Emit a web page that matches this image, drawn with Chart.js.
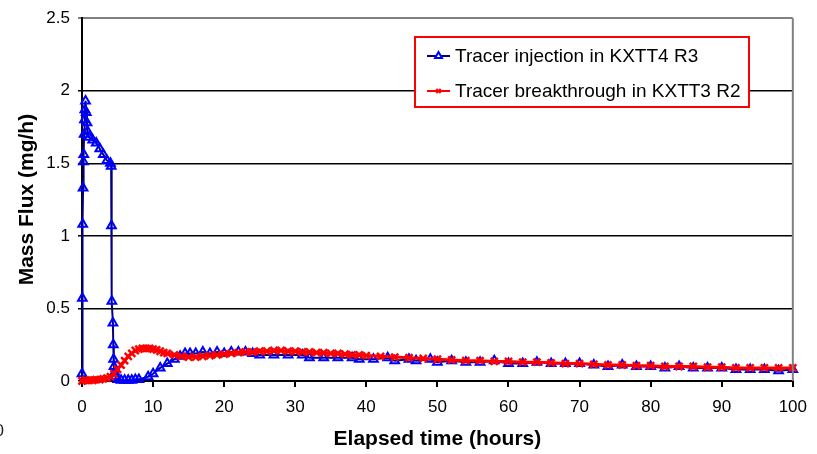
<!DOCTYPE html>
<html>
<head>
<meta charset="utf-8">
<script src="https://cdn.jsdelivr.net/npm/chart.js@4"></script>
<style>
  html, body { margin: 0; padding: 0; background: #fff; }
  #wrap { width: 817px; height: 454px; position: relative; }
</style>
</head>
<body>
<div id="wrap"><canvas id="myChart" width="817" height="454"></canvas></div>
<script>
// Tracer test data (hours, mg/h)
const injectionTime = [0, 0.05, 0.1, 0.15, 0.2, 0.25, 0.3, 0.35, 0.4, 0.5, 0.6, 0.7, 0.8, 1, 1.5, 2, 2.5, 3, 3.5, 4, 4.1,
  4.15, 4.2, 4.35, 4.4, 4.45, 4.5, 4.6, 4.7, 5, 5.5, 6, 6.5, 7, 7.5, 8, 9.3, 10, 11, 12, 13, 13.8, 14.5, 15.2, 16, 17,
  18, 19, 20, 21, 22, 23, 24, 25, 27, 29, 31, 32, 34, 36, 38, 39, 41, 43, 44, 46, 47, 49, 50, 52, 54, 56, 58, 60,
  62, 64, 66, 68, 70, 72, 74, 76, 78, 80, 82, 84, 86, 88, 90, 92, 94, 96, 98, 100];
const injectionFlux = [0.05, 0.57, 1.08, 1.33, 1.51, 1.56, 1.70, 1.80, 1.87, 1.93, 1.85, 1.78, 1.72, 1.68, 1.66, 1.64, 1.60, 1.56, 1.52, 1.50, 1.48,
  1.07, 0.55, 0.40, 0.25, 0.15, 0.10, 0.06, 0.03, 0.01, 0.005, 0.005, 0.005, 0.005, 0.01, 0.01, 0.03, 0.05, 0.09, 0.12, 0.15, 0.17, 0.19, 0.19, 0.19, 0.20,
  0.19, 0.20, 0.19, 0.20, 0.20, 0.20, 0.19, 0.18, 0.18, 0.18, 0.18, 0.16, 0.16, 0.16, 0.16, 0.15, 0.15, 0.16, 0.14, 0.15, 0.14, 0.15, 0.13, 0.14, 0.13, 0.13, 0.14, 0.12,
  0.12, 0.13, 0.12, 0.12, 0.12, 0.11, 0.10, 0.11, 0.10, 0.10, 0.09, 0.10, 0.09, 0.09, 0.09, 0.08, 0.08, 0.08, 0.07, 0.08];

const breakthroughTime = [0, 0.5, 1, 1.5, 2, 2.5, 3, 3.5, 4, 4.5, 5, 5.5, 6, 6.5, 7, 7.5, 8, 8.5, 9, 9.5, 10, 10.5, 11, 11.5,
  12, 13, 14, 15, 16, 17, 18, 19, 20, 21, 22, 23, 24, 25, 26, 27, 28, 29, 30, 31, 32, 33, 34, 35, 36, 37, 38, 39, 40,
  42, 44, 46, 48, 50, 52, 54, 56, 58, 60, 62, 64, 66, 68, 70, 72, 74, 76, 78, 80, 82, 84, 86, 88, 90, 92, 94, 96, 98, 100];
const breakthroughFlux = [0, 0.005, 0.005, 0.005, 0.01, 0.01, 0.015, 0.02, 0.03, 0.05, 0.08, 0.11, 0.14, 0.17, 0.19, 0.21, 0.22, 0.225, 0.225, 0.225, 0.22, 0.215, 0.205, 0.195,
  0.19, 0.18, 0.17, 0.165, 0.165, 0.17, 0.175, 0.18, 0.185, 0.19, 0.195, 0.2, 0.2, 0.205, 0.205, 0.21, 0.21, 0.205, 0.205, 0.2, 0.2, 0.195, 0.195, 0.19, 0.19, 0.185, 0.18, 0.18, 0.175,
  0.17, 0.165, 0.16, 0.155, 0.15, 0.145, 0.14, 0.14, 0.135, 0.135, 0.13, 0.13, 0.125, 0.12, 0.12, 0.115, 0.11, 0.11, 0.105, 0.105, 0.1, 0.1, 0.1, 0.095, 0.095, 0.09, 0.09, 0.09, 0.09, 0.09];

const seriesNames = ["Tracer injection in KXTT4 R3", "Tracer breakthrough in KXTT3 R2"];
const xTicks = [0, 10, 20, 30, 40, 50, 60, 70, 80, 90, 100];
const yTicks = [0, 0.5, 1, 1.5, 2, 2.5];

function toPoints(xs, ys) {
  return xs.map((x, i) => ({ x: x, y: ys[i] }));
}

const FONT = "Arial, 'Liberation Sans', sans-serif";

// legend box with red border inside the plot, plus grey right border and stray "0"
const extras = {
  id: "extras",
  afterDraw(chart) {
    const ctx = chart.ctx;
    const a = chart.chartArea;
    ctx.save();
    // right border of plot
    ctx.strokeStyle = "#808080";
    ctx.lineWidth = 2;
    ctx.beginPath();
    ctx.moveTo(a.right, a.top);
    ctx.lineTo(a.right, a.bottom);
    ctx.stroke();

    // legend
    const bx = 415, by = 37, bw = 334, bh = 70;
    ctx.fillStyle = "#fff";
    ctx.fillRect(bx, by, bw, bh);
    ctx.strokeStyle = "#ff0000";
    ctx.lineWidth = 2;
    ctx.strokeRect(bx, by, bw, bh);
    ctx.font = "19px " + FONT;
    ctx.textBaseline = "middle";
    ctx.textAlign = "left";
    const rows = [56, 91];
    const legendRadius = [4, 3];
    chart.data.datasets.forEach((ds, i) => {
      const y = rows[i];
      ctx.strokeStyle = ds.borderColor;
      ctx.lineWidth = 2;
      ctx.beginPath();
      ctx.moveTo(427, y);
      ctx.lineTo(450, y);
      ctx.stroke();
      ctx.strokeStyle = ds.pointBorderColor;
      ctx.lineWidth = 2;
      Chart.helpers.drawPoint(ctx, { pointStyle: ds.pointStyle, radius: legendRadius[i], borderWidth: 2 }, 438.5, y);
      ctx.fillStyle = "#000";
      ctx.fillText(seriesNames[i], 455, y + 1);
    });

    // stray zero label at the bottom-left corner
    ctx.font = "17px " + FONT;
    ctx.fillStyle = "#222";
    ctx.textAlign = "right";
    ctx.fillText("0", 4, 431);
    ctx.restore();
  }
};

const ctx = document.getElementById("myChart").getContext("2d");
const myChart = new Chart(ctx, {
  type: "scatter",
  data: {
    datasets: [
      {
        label: seriesNames[0],
        data: toPoints(injectionTime, injectionFlux),
        showLine: true,
        borderColor: "#000080",
        borderWidth: 2,
        pointStyle: "triangle",
        pointRadius: 5,
        pointBorderColor: "#0000ff",
        pointBackgroundColor: "rgba(255,255,255,0)",
        pointBorderWidth: 2,
        clip: 8,
        order: 2
      },
      {
        label: seriesNames[1],
        data: toPoints(breakthroughTime, breakthroughFlux),
        showLine: true,
        borderColor: "#ff0000",
        borderWidth: 3,
        pointStyle: "crossRot",
        pointRadius: 5,
        pointBorderColor: "#ff0000",
        pointBackgroundColor: "#ff0000",
        pointBorderWidth: 2.5,
        clip: 8,
        order: 1
      }
    ]
  },
  plugins: [extras],
  options: {
    responsive: false,
    animation: false,
    layout: { padding: { left: 0, right: 24, top: 16, bottom: 0 } },
    plugins: {
      legend: { display: false },
      tooltip: { enabled: false }
    },
    scales: {
      x: {
        type: "linear",
        min: 0,
        max: 100,
        afterBuildTicks: (s) => { s.ticks = xTicks.map(v => ({ value: v })); },
        afterFit: (s) => { s.height = 73; },
        grid: { drawOnChartArea: false, drawTicks: true, tickLength: 6, color: "#000", lineWidth: 2 },
        border: { color: "#000", width: 2 },
        ticks: { color: "#000", font: { size: 17, family: FONT }, padding: 10, maxRotation: 0,
          callback: (v) => String(v) },
        title: { display: true, text: "Elapsed time (hours)", color: "#000", font: { size: 21, weight: "bold", family: FONT }, padding: { top: 0, bottom: 2 } }
      },
      y: {
        type: "linear",
        min: 0,
        max: 2.5,
        afterBuildTicks: (s) => { s.ticks = yTicks.map(v => ({ value: v })); },
        afterFit: (s) => { s.width = 82; },
        grid: {
          drawTicks: true,
          tickLength: 4,
          color: (c) => (c.tick && c.tick.value === 2.5 ? "#808080" : "#000"),
          lineWidth: (c) => (c.tick && c.tick.value === 2.5 ? 2 : 1.5)
        },
        border: { color: "#000", width: 2 },
        ticks: { color: "#000", font: { size: 17, family: FONT }, padding: 8,
          callback: (v) => String(v) },
        title: { display: true, text: "Mass Flux (mg/h)", color: "#000", font: { size: 21, weight: "bold", family: FONT }, padding: { top: 15, bottom: 0 } }
      }
    }
  }
});
</script>
</body>
</html>
